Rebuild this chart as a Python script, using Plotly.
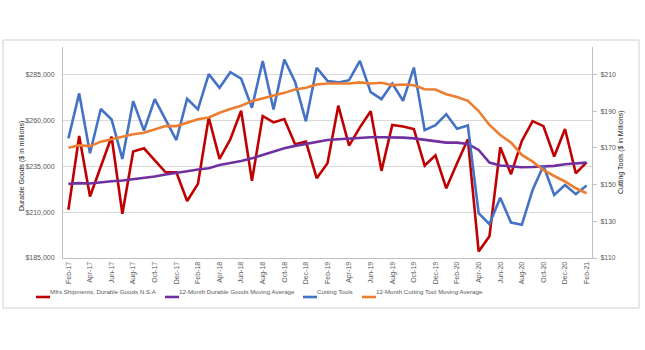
import plotly.graph_objects as go
import pandas as pd

months = list(pd.date_range("2017-02-01", periods=49, freq="MS").strftime("%b-%y"))

mfrs_shipments = [211300, 251500, 218500, 234800, 251100, 209100, 243000, 244800, 238400, 231700, 231700, 216100, 225400,
                  261600, 239000, 249700, 265300, 227100, 262400, 258900, 260700, 247000, 248400, 228500, 236600,
                  268000, 246200, 256200, 265000, 232500, 257500, 256700, 255300, 235400, 241000, 223000, 236600,
                  249700, 188600, 196800, 245300, 230700, 248800, 259600, 256900, 240300, 255300, 231200, 237100]
durable_ma = [225400, 225800, 225600, 226300, 226800, 227200, 227900, 228300, 229400, 230500, 231200, 232300, 233200,
              233900, 235700, 236600, 237900, 239300, 241200, 242800, 244800, 246100, 247100, 248400, 249300,
              249700, 250200, 250600, 250800, 250800, 250800, 250600, 250200, 249300, 248400, 247900, 247900,
              247100, 243900, 237000, 235400, 234800, 234500, 234600, 234800, 235200, 236100, 236600, 237000]
cutting_tools = [175.2, 199.7, 167.1, 191.2, 185.5, 164.0, 195.5, 179.4, 196.6, 185.5, 174.3, 196.8, 191.0,
                 210.2, 202.8, 211.3, 207.8, 191.9, 217.4, 190.9, 218.2, 206.0, 184.5, 213.7, 206.5,
                 205.7, 206.9, 217.4, 200.4, 196.6, 205.1, 195.7, 213.8, 179.7, 182.4, 188.4, 180.4,
                 182.2, 134.5, 128.5, 142.8, 129.3, 128.1, 147.1, 160.3, 144.4, 149.8, 144.8, 149.5]
cutting_ma = [170.1, 171.4, 171.0, 173.4, 174.7, 176.1, 177.4, 178.3, 180.3, 181.9, 181.9, 183.7, 185.6,
              186.6, 189.2, 191.2, 193.0, 195.5, 197.0, 198.2, 200.0, 201.8, 202.8, 204.6, 205.1,
              205.1, 205.1, 205.7, 205.1, 205.5, 204.2, 204.6, 204.2, 202.0, 201.8, 199.3, 197.8,
              195.7, 190.1, 182.5, 177.0, 172.9, 166.2, 162.5, 158.0, 154.7, 151.7, 148.0, 145.3]

names = ["Mfrs Shipments, Durable Goods N.S.A", "12-Month Durable Goods Moving Average",
         "Cutting Tools", "12-Month Cutting Tool Moving Average"]
colors = ["#C00000", "#7030A0", "#4472C4", "#ED7D31"]

left_ticks = [185000, 210000, 235000, 260000, 285000]
right_ticks = [110, 130, 150, 170, 190, 210]

W, H = 645, 350
L, R, T, B = 63, 53, 47, 92
pw, ph = W - L - R, H - T - B

def px2x(p):
    return (p - L) / pw

def px2y(p):
    return (H - B - p) / ph

fig = go.Figure()
series = [(mfrs_shipments, "y"), (durable_ma, "y"), (cutting_tools, "y2"), (cutting_ma, "y2")]
for (vals, ax), name, col in zip(series, names, colors):
    fig.add_trace(go.Scatter(x=months, y=vals, name=name, yaxis=ax, mode="lines",
                             line=dict(color=col, width=2.6), showlegend=False))

font_fam = "Liberation Sans, Arial"
tick_font = dict(family=font_fam, size=7, color="#595959")

fig.update_layout(
    width=W, height=H, margin=dict(l=L, r=R, t=T, b=B),
    paper_bgcolor="white", plot_bgcolor="white",
    xaxis=dict(type="category", range=[-0.5, 48.5], tickmode="array", tickvals=months[::2],
               ticktext=months[::2], tickangle=-90, tickfont=tick_font, showgrid=False,
               showline=True, linecolor="#BFBFBF", linewidth=1, ticks="", zeroline=False),
    yaxis=dict(range=[185000, 300000], tickvals=left_ticks, tickformat="$,.0f", tickfont=tick_font,
               showgrid=True, gridcolor="#D9D9D9", gridwidth=1, showline=True, linecolor="#BFBFBF",
               zeroline=False, ticks="", ticklabelstandoff=6),
    yaxis2=dict(range=[110, 225], tickvals=right_ticks, tickformat="$,.0f", tickfont=tick_font,
                overlaying="y", side="right", showgrid=False, showline=True, linecolor="#BFBFBF",
                ticks="outside", ticklen=4, tickcolor="#BFBFBF", zeroline=False, ticklabelstandoff=2),
)

# chart border
fig.add_shape(type="rect", xref="paper", yref="paper", x0=px2x(3), x1=px2x(639), y0=px2y(308), y1=px2y(40),
              line=dict(color="#D0D0D0", width=1), fillcolor="rgba(0,0,0,0)", layer="below")

# axis titles
fig.add_annotation(xref="paper", yref="paper", x=px2x(16), y=px2y(166), text="Durable Goods ($ in millions)",
                   textangle=-90, showarrow=False, font=dict(family=font_fam, size=7, color="#262626"))
fig.add_annotation(xref="paper", yref="paper", x=px2x(627), y=px2y(152), text="Cutting Tools ($ in Millions)",
                   textangle=-90, showarrow=False, font=dict(family=font_fam, size=7, color="#262626"))

# legend
leg_y = px2y(297)
leg_x = [36, 165, 303, 362]
for name, col, lx in zip(names, colors, leg_x):
    fig.add_shape(type="line", xref="paper", yref="paper", x0=px2x(lx), x1=px2x(lx + 14), y0=leg_y, y1=leg_y,
                  line=dict(color=col, width=2.6))
    fig.add_annotation(xref="paper", yref="paper", x=px2x(lx + 14), y=leg_y, text=name, xanchor="left",
                       showarrow=False, xshift=-2, font=dict(family=font_fam, size=6.2, color="#595959"))

fig.write_html("out.html")
